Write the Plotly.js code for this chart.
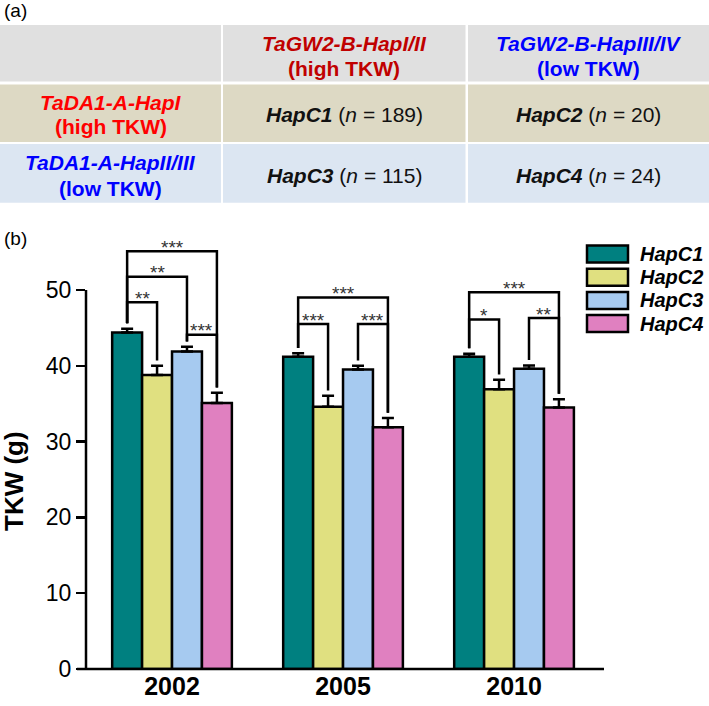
<!DOCTYPE html>
<html><head><meta charset="utf-8">
<script src="https://cdn.plot.ly/plotly-3.0.1.min.js"></script>
<style>html,body{margin:0;padding:0;background:#fff}#chart{width:709px;height:706px}</style>
</head><body><div id="chart"></div>
<script>
// ---------- data ----------
const years = ['2002', '2005', '2010'];
const series = ['HapC1', 'HapC2', 'HapC3', 'HapC4'];
const hapC1 = [44.4, 41.2, 41.2];
const hapC2 = [38.8, 34.6, 36.9];
const hapC3 = [41.9, 39.5, 39.6];
const hapC4 = [35.1, 31.9, 34.5];
const errC1 = [0.5, 0.45, 0.4];
const errC2 = [1.2, 1.45, 1.25];
const errC3 = [0.6, 0.5, 0.45];
const errC4 = [1.35, 1.2, 1.1];
const yTicks = [0, 10, 20, 30, 40, 50];
// significance comparisons: [year index, bar A, bar B, bracket height, label]
const comparisons = [
  [0, 0, 3, 55.1, '***'],
  [0, 0, 2, 51.75, '**'],
  [0, 0, 1, 48.4, '**'],
  [0, 2, 3, 44.1, '***'],
  [1, 0, 3, 49.0, '***'],
  [1, 0, 1, 45.5, '***'],
  [1, 2, 3, 45.5, '***'],
  [2, 0, 3, 49.7, '***'],
  [2, 0, 1, 46.1, '*'],
  [2, 2, 3, 46.3, '**']
];
// table (panel a)
const colHeads = ['TaGW2-B-HapI/II', 'TaGW2-B-HapIII/IV'];
const rowHeads = ['TaDA1-A-HapI', 'TaDA1-A-HapII/III'];
const tkwClass = ['(high TKW)', '(low TKW)'];
const cellNames = [['HapC1', 'HapC2'], ['HapC3', 'HapC4']];
const cellN = [[189, 20], [115, 24]];

// ---------- styles / layout ----------
const FONT = 'Liberation Sans, Arial, Helvetica, sans-serif';
const colors = ['#008080', '#E0E080', '#A6CAF0', '#E080C0'];
const W = 709, H = 706;
const px = v => v / W;
const py = v => 1 - v / H;
const plotL = 86, plotR = 604, plotB = 669;
const pxPerUnit = 379 / 50;
const yr = [0, 57.5];
const plotT = plotB - yr[1] * pxPerUnit;
const bargap = 0.3;
const barW = (1 - bargap) / 4;
const xr = [-0.503, 2.526];

const vals = [hapC1, hapC2, hapC3, hapC4];
const errs = [errC1, errC2, errC3, errC4];

const traces = series.map((s, i) => ({
  type: 'bar', name: s, x: years.map((_, k) => k), y: vals[i],
  marker: {color: colors[i], line: {color: '#000', width: 2.5}},
  error_y: {type: 'data', symmetric: false, array: errs[i], arrayminus: years.map(() => 0),
            color: '#000', thickness: 2.5, width: 6},
  showlegend: false, hoverinfo: 'skip'
}));

const shapes = [];
const annotations = [];

// axis lines
shapes.push({type: 'line', xref: 'paper', yref: 'y', x0: px(plotL), x1: px(plotL), y0: 0, y1: 50,
             line: {color: '#000', width: 2.5}});
shapes.push({type: 'line', xref: 'paper', yref: 'paper', x0: px(77), x1: px(plotR), y0: py(plotB), y1: py(plotB),
             line: {color: '#000', width: 2.5}});

// brackets
const barX = (g, b) => g + (b - 1.5) * barW;
const legBottom = (g, b) => vals[b][g] + errs[b][g] + 0.7;
comparisons.forEach(([g, a, b, top, lab]) => {
  const xa = barX(g, a), xb = barX(g, b);
  shapes.push({type: 'path', xref: 'x', yref: 'y',
    path: `M ${xa},${legBottom(g, a)} L ${xa},${top} L ${xb},${top} L ${xb},${legBottom(g, b)}`,
    line: {color: '#000', width: 2.5}});
  annotations.push({xref: 'x', yref: 'y', x: (xa + xb) / 2, y: top, text: lab, showarrow: false,
    yanchor: 'middle', yshift: 4, font: {family: FONT, size: 19, color: '#333'}});
});

// custom legend
series.forEach((s, i) => {
  const cy = 254 + i * 23.2;
  shapes.push({type: 'rect', xref: 'paper', yref: 'paper', x0: px(587), x1: px(628), y0: py(cy + 8.5), y1: py(cy - 8.5),
    fillcolor: colors[i], line: {color: '#000', width: 2.5}});
  annotations.push({xref: 'paper', yref: 'paper', x: px(638), y: py(cy), xanchor: 'left', yanchor: 'middle',
    text: '<b><i>' + s + '</i></b>', showarrow: false, font: {family: FONT, size: 20, color: '#000'}});
});

// y title and panel labels
annotations.push({xref: 'paper', yref: 'paper', x: px(14), y: py(481), xanchor: 'center', yanchor: 'middle',
  text: '<b>TKW (g)</b>', textangle: -90, showarrow: false, font: {family: FONT, size: 26, color: '#000'}});
annotations.push({xref: 'paper', yref: 'paper', x: px(2), y: py(11), xanchor: 'left', yanchor: 'middle', text: '(a)',
  showarrow: false, font: {family: FONT, size: 19, color: '#000'}});
annotations.push({xref: 'paper', yref: 'paper', x: px(2), y: py(239), xanchor: 'left', yanchor: 'middle', text: '(b)',
  showarrow: false, font: {family: FONT, size: 19, color: '#000'}});

// table
const cols = [[0, 221], [223, 465.5], [468, 709]];
const rows = [[25, 81.5], [84.5, 142], [144, 202.7]];
const rowFill = ['#E0E0E0', '#DDD9C4', '#DCE6F2'];
rows.forEach((r, ri) => cols.forEach(c => {
  shapes.push({type: 'rect', xref: 'paper', yref: 'paper', x0: px(c[0]), x1: px(c[1]), y0: py(r[1]), y1: py(r[0]),
    fillcolor: rowFill[ri], line: {width: 0}, layer: 'below'});
}));
const cx = c => px((c[0] + c[1]) / 2);
const txt = (x, y, t, color) => annotations.push({xref: 'paper', yref: 'paper', x: x, y: py(y), text: t,
  showarrow: false, xanchor: 'center', yanchor: 'middle', font: {family: FONT, size: 21, color: color}});
const headColors = ['#C00000', '#0000FF'];
const rowColors = ['#FF0000', '#0000FF'];
colHeads.forEach((h, i) => {
  txt(cx(cols[i + 1]), 43.5, '<b><i>' + h + '</i></b>', headColors[i]);
  txt(cx(cols[i + 1]), 68.3, '<b>' + tkwClass[i] + '</b>', headColors[i]);
});
const rowTextY = [[102.3, 126.7], [162.3, 188.3]];
rowHeads.forEach((h, i) => {
  txt(cx(cols[0]), rowTextY[i][0], '<b><i>' + h + '</i></b>', rowColors[i]);
  txt(cx(cols[0]), rowTextY[i][1], '<b>' + tkwClass[i] + '</b>', rowColors[i]);
});
const cellY = [115, 175];
cellNames.forEach((row, ri) => row.forEach((nm, ci) => {
  txt(cx(cols[ci + 1]), cellY[ri], '<b><i>' + nm + '</i></b> (<i>n</i> = ' + cellN[ri][ci] + ')', '#111');
}));

const layout = {
  width: W, height: H, margin: {l: 0, r: 0, t: 0, b: 0},
  paper_bgcolor: '#fff', plot_bgcolor: 'rgba(0,0,0,0)',
  barmode: 'group', bargap: bargap, bargroupgap: 0,
  showlegend: false,
  font: {family: FONT, color: '#000'},
  xaxis: {domain: [px(plotL), px(plotR)], range: xr, tickvals: years.map((_, k) => k),
    ticktext: years.map(y => '<b>' + y + '</b>'), tickfont: {family: FONT, size: 25, color: '#000'},
    showline: false, ticks: '', showgrid: false, zeroline: false, ticklabelstandoff: 0, fixedrange: true},
  yaxis: {domain: [py(plotB), py(plotT)], range: yr, tickvals: yTicks, ticks: 'outside', ticklen: 9,
    tickwidth: 2.5, tickcolor: '#000', tickfont: {family: FONT, size: 23, color: '#000'},
    showline: false, showgrid: false, zeroline: false, fixedrange: true},
  shapes: shapes, annotations: annotations
};
Plotly.newPlot('chart', traces, layout, {staticPlot: true, displayModeBar: false});
</script></body></html>
